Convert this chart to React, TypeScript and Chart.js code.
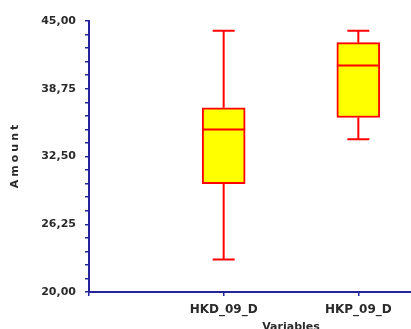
import React, { useEffect, useRef } from 'react';
import { Chart, registerables } from 'chart.js';

Chart.register(...registerables);

// ---- data ----
const categories = ['HKD_09_D', 'HKP_09_D'];
const positions = [1, 2];
const minValues = [23.0, 34.1];
const q1Values = [30.0, 36.1];
const medianValues = [35.0, 40.9];
const q3Values = [37.0, 43.0];
const maxValues = [44.1, 44.1];
const xTickLabels = ['', ...categories, ''];
const yMin = 20;
const yMax = 45;
const yMinorStep = 1.25;
const yLabelStep = 6.25;
const yAxisTitle = 'Amount';
const xAxisTitle = 'Variables';

const AXIS = '#24249a';
const TEXT = '#2a2a2a';
const FONT = '"DejaVu Sans", Verdana, sans-serif';

const boxPlugin = {
  id: 'boxWhiskers',
  afterDatasetsDraw(chart: any) {
    const ctx = chart.ctx;
    const xs = chart.scales.x;
    const ys = chart.scales.y;
    const meta = chart.getDatasetMeta(0);
    ctx.save();
    ctx.strokeStyle = '#ff0000';
    ctx.lineWidth = 2;
    positions.forEach((p, i) => {
      const cx = xs.getPixelForValue(p);
      const bar = meta.data[i];
      const half = bar ? bar.width / 2 : 21;
      const capHalf = 11;
      const yMaxP = ys.getPixelForValue(maxValues[i]);
      const yQ3 = ys.getPixelForValue(q3Values[i]);
      const yMed = ys.getPixelForValue(medianValues[i]);
      const yQ1 = ys.getPixelForValue(q1Values[i]);
      const yMinP = ys.getPixelForValue(minValues[i]);
      ctx.beginPath();
      ctx.moveTo(cx, yMaxP);
      ctx.lineTo(cx, yQ3);
      ctx.moveTo(cx, yQ1);
      ctx.lineTo(cx, yMinP);
      ctx.moveTo(cx - capHalf, yMaxP);
      ctx.lineTo(cx + capHalf, yMaxP);
      ctx.moveTo(cx - capHalf, yMinP);
      ctx.lineTo(cx + capHalf, yMinP);
      ctx.moveTo(cx - half, yMed);
      ctx.lineTo(cx + half, yMed);
      ctx.stroke();
    });
    ctx.restore();
  },
  afterDraw(chart: any) {
    const ctx = chart.ctx;
    const area = chart.chartArea;
    ctx.save();
    ctx.translate(15, (area.top + area.bottom) / 2);
    ctx.rotate(-Math.PI / 2);
    ctx.font = `bold 11px ${FONT}`;
    try { (ctx as any).letterSpacing = '3px'; } catch (e) {}
    ctx.textAlign = 'center';
    ctx.textBaseline = 'middle';
    ctx.fillStyle = TEXT;
    ctx.fillText(yAxisTitle, 1.5, 0);
    ctx.restore();
  },
};

export default function App() {
  const ref = useRef<HTMLCanvasElement | null>(null);

  useEffect(() => {
    if (!ref.current) return;
    const chart = new Chart(ref.current, {
      type: 'bar',
      data: {
        datasets: [
          {
            data: positions.map((p, i) => ({ x: p, y: [q1Values[i], q3Values[i]] })) as any,
            backgroundColor: '#ffff00',
            borderColor: '#ff0000',
            borderWidth: 2,
            borderSkipped: false,
            barThickness: 43,
          },
        ],
      },
      options: {
        responsive: false,
        maintainAspectRatio: false,
        animation: false,
        layout: { padding: { top: 21, right: 6, left: 0, bottom: 0 } },
        plugins: {
          legend: { display: false },
          tooltip: { enabled: false },
        },
        scales: {
          x: {
            type: 'linear',
            min: 0,
            max: 3,
            offset: false,
            afterFit: (s: any) => {
              s.height = 53;
            },
            afterBuildTicks: (s: any) => {
              s.ticks = [0, 1, 2, 3].map((v) => ({ value: v }));
            },
            ticks: {
              autoSkip: false,
              maxRotation: 0,
              padding: 7,
              color: TEXT,
              font: { family: FONT, size: 12, weight: 'bold' },
              callback: (v: any) => xTickLabels[Math.round(Number(v))] ?? '',
            },
            grid: {
              offset: false,
              drawOnChartArea: false,
              drawTicks: true,
              tickLength: 4,
              color: AXIS,
              lineWidth: 1.5,
            },
            border: { display: true, color: AXIS, width: 2 },
            title: {
              display: true,
              text: xAxisTitle,
              color: TEXT,
              font: { family: FONT, size: 11, weight: 'bold' },
              padding: { top: 0, bottom: 11 },
            },
          },
          y: {
            type: 'linear',
            min: yMin,
            max: yMax,
            afterFit: (s: any) => {
              s.width = 89;
            },
            ticks: {
              stepSize: yMinorStep,
              autoSkip: false,
              padding: 9,
              color: TEXT,
              font: { family: FONT, size: 11, weight: 'bold' },
              callback: (v: any) => {
                const n = Number(v);
                const k = (n - yMin) / yLabelStep;
                if (Math.abs(k - Math.round(k)) > 1e-6) return '';
                return n.toFixed(2).replace('.', ',');
              },
            },
            grid: {
              drawOnChartArea: false,
              drawTicks: true,
              tickLength: 4,
              color: AXIS,
              lineWidth: 1.5,
            },
            border: { display: true, color: AXIS, width: 2 },
          },
        },
      } as any,
      plugins: [boxPlugin],
    });
    return () => chart.destroy();
  }, []);

  return (
    <div
      style={{
        position: 'fixed',
        left: 0,
        top: 0,
        width: 411,
        height: 329,
        overflow: 'hidden',
        background: '#ffffff',
      }}
    >
      <canvas ref={ref} width={500} height={345} style={{ display: 'block' }} />
    </div>
  );
}
